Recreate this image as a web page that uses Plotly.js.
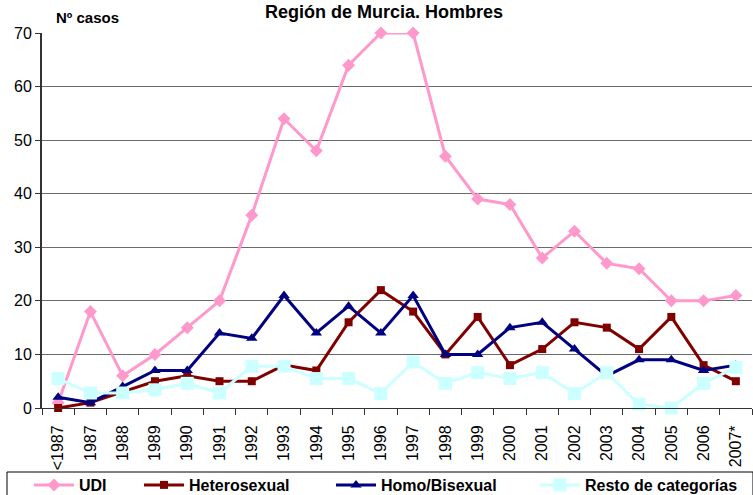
<!DOCTYPE html>
<html>
<head>
<meta charset="utf-8">
<script src="https://cdn.plot.ly/plotly-3.0.1.min.js"></script>
<style>html,body{margin:0;padding:0;background:#fff;}#chart{width:753px;height:495px;}</style>
</head>
<body>
<div id="chart"></div>
<script>
var categories = ["<1987","1987","1988","1989","1990","1991","1992","1993","1994","1995","1996","1997","1998","1999","2000","2001","2002","2003","2004","2005","2006","2007*"];
var udi = [1,18,6,10,15,20,36,54,48,64,70,70,47,39,38,28,33,27,26,20,20,21];
var hetero = [0,1,3,5,6,5,5,8,7,16,22,18,10,17,8,11,16,15,11,17,8,5];
var homo = [2,1,4,7,7,14,13,21,14,19,14,21,10,10,15,16,11,6,9,9,7,8];
var resto = [5.5,2.8,2.8,3.4,4.6,2.8,7.8,7.8,5.5,5.5,2.7,8.6,4.6,6.6,5.5,6.6,2.7,6.6,0.7,0,4.6,7.6];
var yTicks = [0,10,20,30,40,50,60,70];

var L = 42, W = 710, B = 408, H = 375;
function px(x){ return (x - L) / W; }
function py(y){ return (B - y) / H; }

function series(name, y, color, symbol, size, leg) {
  return {type:'scatter', mode:'lines+markers', name:name, x:categories, y:y, legend:leg,
    line:{color:color, width:3}, marker:{color:color, symbol:symbol, size:size},
    cliponaxis:false, hoverinfo:'skip'};
}
var data = [
  series('UDI', udi, '#FF99CC', 'diamond', 10, 'legend'),
  series('Heterosexual', hetero, '#800000', 'square', 8, 'legend2'),
  series('Homo/Bisexual', homo, '#000080', 'triangle-up', 10, 'legend3'),
  series('Resto de categorías', resto, '#CCFFFF', 'square', 13, 'legend4')
];
var ff = 'Liberation Sans, Arial, sans-serif';
function leg(xText){
  return {x:px(xText - 44), xanchor:'left', y:py(485), yanchor:'middle', bgcolor:'rgba(0,0,0,0)', borderwidth:0,
    itemwidth:40, font:{family:ff, size:16, color:'#000', weight:'bold'}};
}
var layout = {
  width:753, height:495,
  margin:{l:42, r:1, t:33, b:87, autoexpand:false},
  paper_bgcolor:'#fff', plot_bgcolor:'#fff',
  font:{family:ff, color:'#000'},
  showlegend:true,
  title:{text:'<b>Región de Murcia. Hombres</b>', font:{family:ff, size:18, color:'#000'}, x:384/753, xref:'container', xanchor:'center', y:1-12/495, yref:'container', yanchor:'middle'},
  xaxis:{type:'category', tickangle:-90, tickson:'boundaries', ticks:'outside', ticklen:6, tickcolor:'#333',
    ticklabelstandoff:10,
    showline:true, linecolor:'#333', linewidth:1, showgrid:false, zeroline:false,
    tickfont:{family:ff, size:16, color:'#000'}, range:[-0.5,21.5]},
  yaxis:{range:[0,70], tickvals:yTicks, ticks:'outside', ticklen:5, tickcolor:'#333',
    showline:true, linecolor:'#333', linewidth:2, showgrid:true, gridcolor:'#6a6a6a', gridwidth:1,
    zeroline:false, tickfont:{family:ff, size:16, color:'#000'}},
  legend:leg(73), legend2:leg(183), legend3:leg(375), legend4:leg(579),
  shapes:[{type:'rect', xref:'paper', yref:'paper', x0:px(7), x1:px(753), y0:py(472), y1:py(500), line:{color:'#000', width:1}, fillcolor:'rgba(0,0,0,0)'}],
  annotations:[{text:'<b>Nº casos</b>', xref:'paper', yref:'paper', x:px(54), y:py(18), xanchor:'left', yanchor:'middle', showarrow:false, font:{family:ff, size:15, color:'#000'}}]
};
Plotly.newPlot('chart', data, layout, {displayModeBar:false, staticPlot:true});
</script>
</body>
</html>
